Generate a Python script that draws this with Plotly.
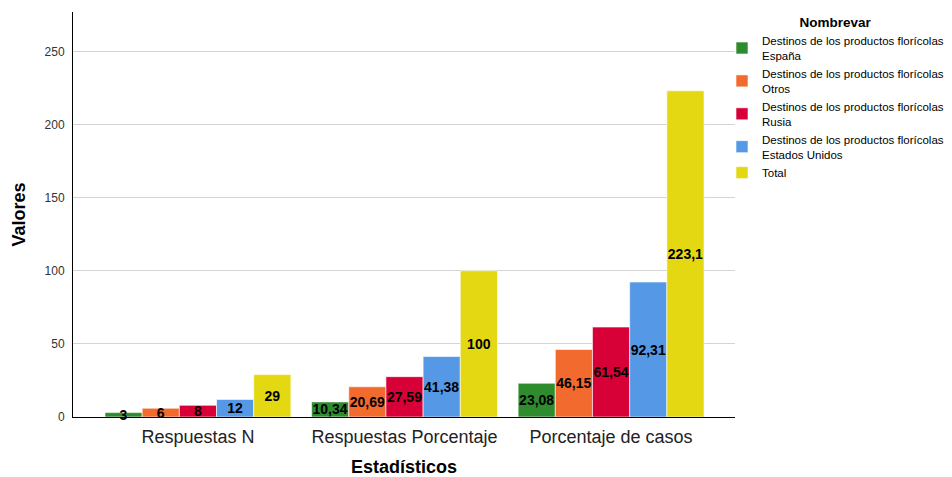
import plotly.graph_objects as go

categories = ["Respuestas N", "Respuestas Porcentaje", "Porcentaje de casos"]
series_names = [
    "Destinos de los productos florícolas<br>España",
    "Destinos de los productos florícolas<br>Otros",
    "Destinos de los productos florícolas<br>Rusia",
    "Destinos de los productos florícolas<br>Estados Unidos",
    "Total",
]
espana = [3, 10.34, 23.08]
otros = [6, 20.69, 46.15]
rusia = [8, 27.59, 61.54]
eeuu = [12, 41.38, 92.31]
total = [29, 100, 223.1]
colors = ["#2E8B2E", "#F26A2E", "#D70037", "#5598E6", "#E3D812"]

FONT = "Arial, Liberation Sans, sans-serif"
# page has an 8px body margin; figure sized to fill the 952x477 window
W, H = 944, 469


def fmt(v):
    return ("%g" % v).replace(".", ",")


fig = go.Figure()
for name, vals, col in zip(series_names, [espana, otros, rusia, eeuu, total], colors):
    fig.add_trace(go.Bar(
        x=categories, y=vals, name=name,
        marker=dict(color=col, line=dict(color="rgba(255,255,255,0.6)", width=1)),
        text=[fmt(v) for v in vals],
        textposition="inside", insidetextanchor="middle",
        textfont=dict(family=FONT, size=14, color="black", weight="bold"),
        textangle=0,
        cliponaxis=False,
    ))

fig.update_layout(
    width=W, height=H,
    margin=dict(l=65, r=217, t=4, b=60, autoexpand=False),
    plot_bgcolor="white", paper_bgcolor="white",
    barmode="group", bargap=0.1, bargroupgap=0,
    uniformtext=dict(minsize=14, mode="show"),
    font=dict(family=FONT, color="#222"),
    legend=dict(
        xref="container", yref="container",
        x=714 / W, xanchor="left", y=1 - 1 / H, yanchor="top",
        bgcolor="rgba(0,0,0,0)",
        title=dict(text="<b>Nombrevar</b>", side="top center", font=dict(size=13.5, color="black")),
        font=dict(size=11.5, color="black"),
        tracegroupgap=0, itemwidth=30,
    ),
    showlegend=True,
)
fig.update_xaxes(
    range=[-0.605, 2.6], automargin=False,
    showline=True, linecolor="black", linewidth=1,
    ticks="", tickfont=dict(size=18, color="#222"), ticklabelstandoff=3,
    title=dict(text="<b>Estadísticos</b>", font=dict(size=18, color="black"), standoff=17),
    showgrid=False,
)
fig.update_yaxes(
    range=[0, 277], automargin=False,
    showline=True, linecolor="black", linewidth=1,
    tickvals=[0, 50, 100, 150, 200, 250],
    tickfont=dict(size=12, color="#333"),
    ticks="", ticklabelstandoff=5,
    showgrid=True, gridcolor="#d4d4d4", gridwidth=1,
    zeroline=False,
    title=dict(text="<b>Valores</b>", font=dict(size=18, color="black"), standoff=14),
)

fig.write_html("out.html")
